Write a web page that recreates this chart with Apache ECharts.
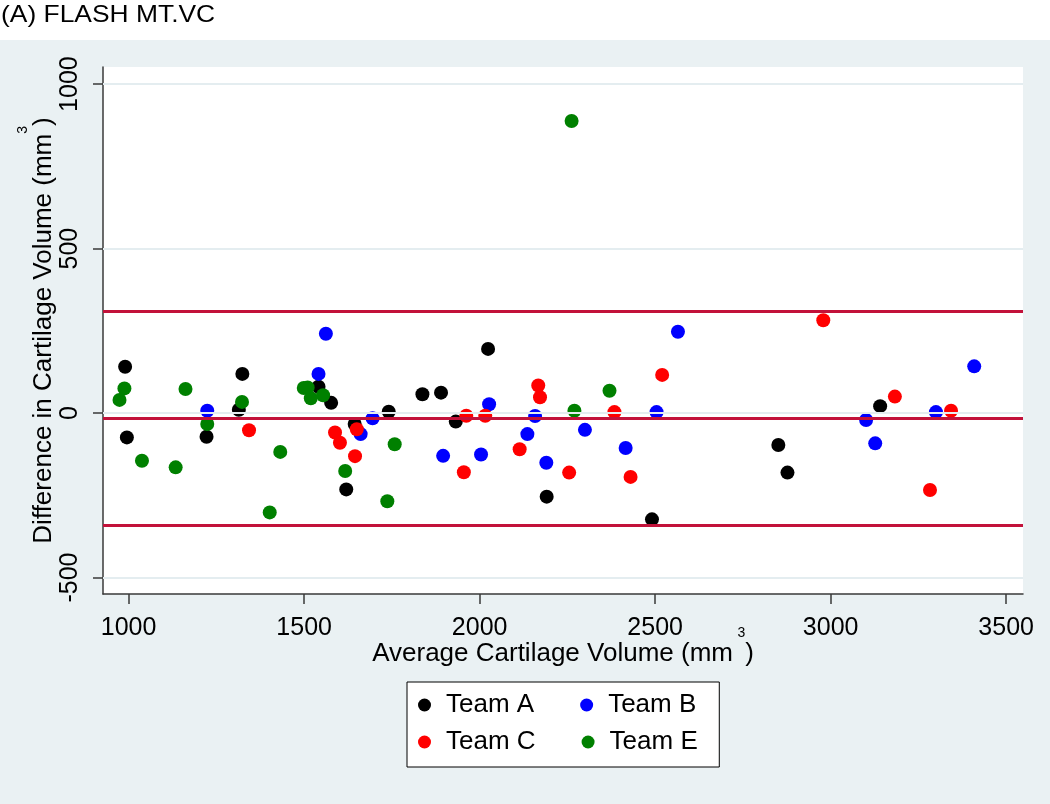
<!DOCTYPE html>
<html>
<head>
<meta charset="utf-8">
<title>(A) FLASH MT.VC</title>
<script src="https://cdn.jsdelivr.net/npm/echarts@6/dist/echarts.min.js"></script>
<style>
  html, body { margin: 0; padding: 0; background: #fff; }
  #chart { width: 1050px; height: 804px; }
</style>
</head>
<body>
<div id="chart"></div>
<script>
// [average, difference] per reader pair
var teamA = [[990,141],[995,-74],[1222,-72],[1314,10],[1324,119],[1541,80],[1577,31],[1620,-232],[1644,-33],[1741,4],
    [1837,57],[1890,62],[1932,-26],[2024,195],[2191,-254],[2491,-323],[2851,-97],[2877,-181],[3141,21]];
var teamB = [[1224,7],[1541,119],[1562,241],[1661,-64],[1695,-16],[1896,-130],[2004,-126],[2027,27],[2136,-64],[2158,-9],
    [2190,-151],[2300,-51],[2416,-106],[2504,3],[2565,247],[3101,-21],[3127,-92],[3300,3],[3409,142]];
var teamC = [[1343,-52],[1588,-59],[1602,-90],[1645,-131],[1650,-49],[1955,-180],[1962,-8],[2016,-8],[2114,-110],[2167,84],
    [2172,48],[2255,-181],[2384,3],[2430,-194],[2520,116],[2979,282],[3183,50],[3283,-234],[3343,7]];
var teamE = [[974,40],[988,75],[1038,-145],[1134,-165],[1162,73],[1224,-33],[1323,34],[1402,-302],[1432,-118],[1499,76],
    [1510,78],[1519,45],[1554,54],[1617,-176],[1737,-268],[1758,-95],[2262,888],[2270,7],[2370,68]];

var teamNames = ['Team A', 'Team B', 'Team C', 'Team E'];
var teamColors = ['#000000', '#0000ff', '#ff0000', '#008000'];

var xTicks = [1000, 1500, 2000, 2500, 3000, 3500];
var yTicks = [-500, 0, 500, 1000];
// upper limit, mean difference, lower limit
var limitLines = [310, -16, -342];

var chart = echarts.init(document.getElementById('chart'));

var font = 'Liberation Sans, Arial, sans-serif';
var axisColor = '#3a3a3a';
var supRich = {
    t: { fontSize: 26, fontFamily: font, color: '#000', verticalAlign: 'bottom', lineHeight: 26 },
    sp: { fontSize: 16, fontFamily: font, color: '#000', verticalAlign: 'bottom', lineHeight: 26 },
    sup: { fontSize: 14, fontFamily: font, color: '#000', verticalAlign: 'bottom', lineHeight: 14, padding: [0, 0, 27, 0] }
};
var plainNum = function (v) { return String(v); };

var series = [];
// grid lines at the y ticks
series.push({
    name: 'grid',
    type: 'line',
    data: [],
    silent: true,
    z: 1,
    markLine: {
        silent: true,
        symbol: ['none', 'none'],
        label: { show: false },
        animation: false,
        lineStyle: { color: '#e4edf0', width: 2, type: 'solid' },
        data: yTicks.map(function (v) { return { yAxis: v }; })
    }
});
// mean and limits of agreement
series.push({
    name: 'limits',
    type: 'line',
    data: [],
    silent: true,
    z: 2,
    markLine: {
        silent: true,
        symbol: ['none', 'none'],
        label: { show: false },
        animation: false,
        lineStyle: { color: '#c2123a', width: 3, type: 'solid' },
        data: limitLines.map(function (v) { return { yAxis: v }; })
    }
});
[teamA, teamB, teamC, teamE].forEach(function (d, i) {
    series.push({
        name: teamNames[i],
        type: 'scatter',
        symbol: 'circle',
        symbolSize: 14,
        z: 3,
        itemStyle: { color: teamColors[i], opacity: 1 },
        data: d
    });
});

var legendCommon = {
    orient: 'horizontal',
    icon: 'circle',
    itemWidth: 13,
    itemHeight: 13,
    itemGap: 46,
    selectedMode: false,
    textStyle: { fontSize: 26, fontFamily: font, color: '#000', lineHeight: 26, padding: [0, 0, 0, 10] }
};

var option = {
    backgroundColor: '#eaf1f3',
    animation: false,
    graphic: [{
        type: 'rect',
        left: 0,
        top: 0,
        z: -10,
        shape: { width: 1050, height: 40 },
        style: { fill: '#ffffff' }
    }, {
        // title is drawn a bit wider than its height in the original
        type: 'text',
        left: 1,
        top: 3,
        scaleX: 1.1,
        style: { text: '(A) FLASH MT.VC', fontSize: 24, fontFamily: font, fill: '#000' }
    }],
    grid: {
        left: 103,
        right: 27,
        top: 67,
        bottom: 210,
        show: true,
        backgroundColor: '#ffffff',
        borderWidth: 0,
        outerBoundsMode: 'none'
    },
    xAxis: {
        type: 'value',
        min: 927,
        max: 3548,
        name: '{t|Average Cartilage Volume (mm}{sp| }{sup|3}{t|)}',
        nameLocation: 'middle',
        nameGap: 47,
        nameMoveOverlap: false,
        nameTextStyle: { rich: supRich },
        axisLine: { show: true, onZero: false, lineStyle: { color: axisColor, width: 1.5 } },
        axisTick: { show: true, length: 10, customValues: xTicks, lineStyle: { color: axisColor, width: 1.5 } },
        axisLabel: { customValues: xTicks, formatter: plainNum, fontSize: 25, fontFamily: font, color: '#000', margin: 22 },
        splitLine: { show: false }
    },
    yAxis: {
        type: 'value',
        min: -550,
        max: 1052,
        name: '{t|Difference in Cartilage Volume (mm}{sup|3}{t|)}',
        nameLocation: 'middle',
        nameGap: 46,
        nameMoveOverlap: false,
        nameTextStyle: { rich: supRich },
        axisLine: { show: true, onZero: false, lineStyle: { color: axisColor, width: 1.5 } },
        axisTick: { show: true, length: 10, customValues: yTicks, lineStyle: { color: axisColor, width: 1.5 } },
        axisLabel: { customValues: yTicks, formatter: plainNum, rotate: 90, fontSize: 25, fontFamily: font, color: '#000', margin: 20 },
        splitLine: { show: false }
    },
    legend: [
        Object.assign({}, legendCommon, {
            data: ['Team A', 'Team B'],
            left: 407,
            top: 682,
            padding: [10, 23, 49, 11],
            backgroundColor: '#ffffff',
            borderColor: '#000000',
            borderWidth: 1
        }),
        Object.assign({}, legendCommon, {
            data: ['Team C', 'Team E'],
            left: 418,
            top: 729,
            padding: 0
        })
    ],
    series: series
};

chart.setOption(option);
</script>
</body>
</html>
